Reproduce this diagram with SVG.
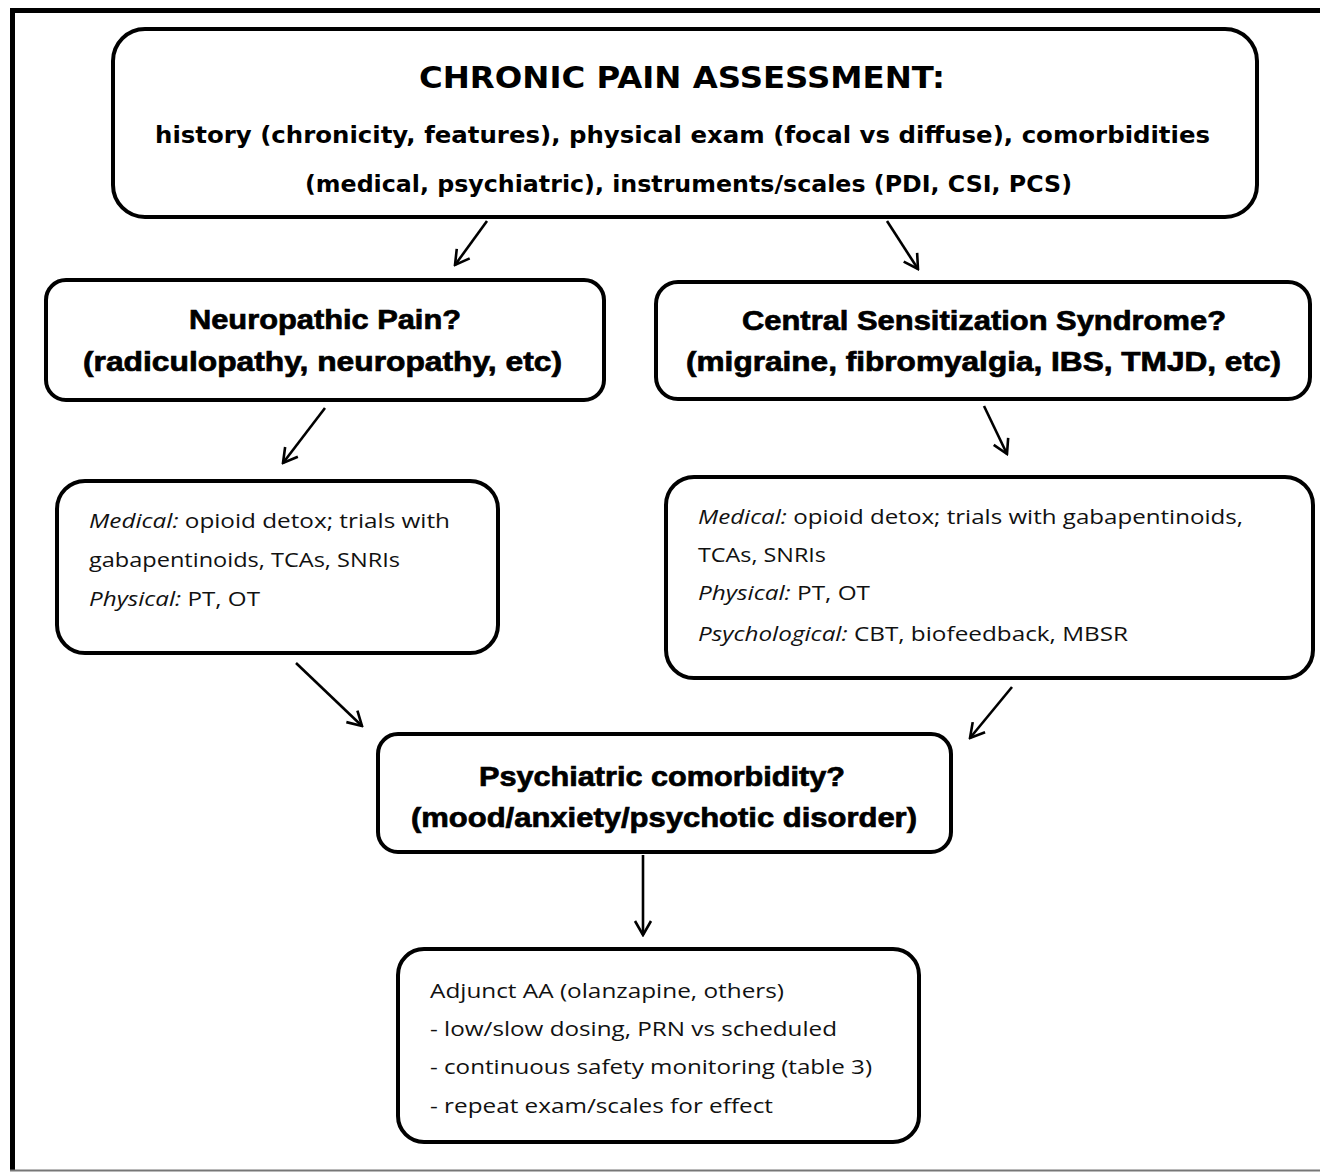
<svg xmlns="http://www.w3.org/2000/svg" width="1320" height="1172" viewBox="0 0 1320 1172">
  <defs>
    <marker id="head" viewBox="0 0 20 20" refX="18" refY="10" markerWidth="20" markerHeight="20" markerUnits="userSpaceOnUse" orient="auto">
      <path d="M4,2 L18,10 L4,18" fill="none" stroke="#000" stroke-width="2.6"/>
    </marker>
  </defs>
  <style>
    .box { fill: #fff; stroke: #000; stroke-width: 4; }
    .head { font-family: "DejaVu Sans", Verdana, sans-serif; font-weight: bold; fill: #000; }
    .heavy { font-family: "Liberation Sans", Arial, sans-serif; font-weight: bold; font-size: 27px; fill: #000; stroke: #000; stroke-width: 0.7; }
    .body { font-family: "Open Sans", "Liberation Sans", sans-serif; font-size: 20px; fill: #111; }
    .it { font-style: italic; }
    .conn { fill: none; stroke: #000; stroke-width: 2.6; marker-end: url(#head); }
  </style>

  <rect x="0" y="0" width="1320" height="1172" fill="#fff"/>
  <!-- page frame: heavy top and left rules, light bottom rule -->
  <path d="M1324,10.5 H12.5 V1170" fill="none" stroke="#000" stroke-width="5"/>
  <line x1="10" y1="1170.5" x2="1320" y2="1170.5" stroke="#777" stroke-width="2"/>

  <g id="assessment">
    <rect class="box" x="113" y="29" width="1144" height="188" rx="32"/>
    <text class="head" x="682" y="88" font-size="30" text-anchor="middle" textLength="526" lengthAdjust="spacingAndGlyphs">CHRONIC PAIN ASSESSMENT:</text>
    <text class="head" x="155" y="143" font-size="23" textLength="1055" lengthAdjust="spacingAndGlyphs">history (chronicity, features), physical exam (focal vs diffuse), comorbidities</text>
    <text class="head" x="305" y="192" font-size="23" textLength="767" lengthAdjust="spacingAndGlyphs">(medical, psychiatric), instruments/scales (PDI, CSI, PCS)</text>
  </g>

  <g id="neuropathic">
    <rect class="box" x="46" y="280" width="558" height="120" rx="20"/>
    <text class="heavy" x="189" y="329" textLength="272" lengthAdjust="spacingAndGlyphs">Neuropathic Pain?</text>
    <text class="heavy" x="83" y="371" textLength="479" lengthAdjust="spacingAndGlyphs">(radiculopathy, neuropathy, etc)</text>
  </g>

  <g id="central-sensitization">
    <rect class="box" x="656" y="282" width="654" height="117" rx="22"/>
    <text class="heavy" x="742" y="330" textLength="484" lengthAdjust="spacingAndGlyphs">Central Sensitization Syndrome?</text>
    <text class="heavy" x="686" y="371" textLength="595" lengthAdjust="spacingAndGlyphs">(migraine, fibromyalgia, IBS, TMJD, etc)</text>
  </g>

  <g id="neuropathic-treatment">
    <rect class="box" x="57" y="481" width="441" height="172" rx="28"/>
    <text class="body" x="89" y="528" textLength="361" lengthAdjust="spacingAndGlyphs"><tspan class="it">Medical:</tspan>  opioid detox; trials with</text>
    <text class="body" x="89" y="567" textLength="311" lengthAdjust="spacingAndGlyphs">gabapentinoids, TCAs, SNRIs</text>
    <text class="body" x="89" y="606" textLength="171" lengthAdjust="spacingAndGlyphs"><tspan class="it">Physical:</tspan> PT, OT</text>
  </g>

  <g id="central-treatment">
    <rect class="box" x="666" y="477" width="647" height="201" rx="28"/>
    <text class="body" x="698" y="524" textLength="545" lengthAdjust="spacingAndGlyphs"><tspan class="it">Medical:</tspan>  opioid detox; trials with gabapentinoids,</text>
    <text class="body" x="698" y="562" textLength="128" lengthAdjust="spacingAndGlyphs">TCAs, SNRIs</text>
    <text class="body" x="698" y="600" textLength="172" lengthAdjust="spacingAndGlyphs"><tspan class="it">Physical:</tspan> PT, OT</text>
    <text class="body" x="698" y="641" textLength="430" lengthAdjust="spacingAndGlyphs"><tspan class="it">Psychological:</tspan> CBT, biofeedback, MBSR</text>
  </g>

  <g id="psychiatric-comorbidity">
    <rect class="box" x="378" y="734" width="573" height="118" rx="20"/>
    <text class="heavy" x="479" y="786" textLength="366" lengthAdjust="spacingAndGlyphs">Psychiatric comorbidity?</text>
    <text class="heavy" x="411" y="827" textLength="506" lengthAdjust="spacingAndGlyphs">(mood/anxiety/psychotic disorder)</text>
  </g>

  <g id="adjunct-aa">
    <rect class="box" x="398" y="949" width="521" height="193" rx="26"/>
    <text class="body" x="430" y="998" textLength="354" lengthAdjust="spacingAndGlyphs">Adjunct AA (olanzapine, others)</text>
    <text class="body" x="430" y="1036" textLength="407" lengthAdjust="spacingAndGlyphs">- low/slow dosing, PRN vs scheduled</text>
    <text class="body" x="430" y="1074" textLength="442" lengthAdjust="spacingAndGlyphs">- continuous safety monitoring (table 3)</text>
    <text class="body" x="430" y="1113" textLength="343" lengthAdjust="spacingAndGlyphs">- repeat exam/scales for effect</text>
  </g>

  <g id="connectors">
    <line class="conn" x1="487" y1="221" x2="455" y2="265"/>
    <line class="conn" x1="887" y1="221" x2="918" y2="269"/>
    <line class="conn" x1="325" y1="408" x2="283" y2="463"/>
    <line class="conn" x1="984" y1="406" x2="1007" y2="454"/>
    <line class="conn" x1="296" y1="663" x2="362" y2="726"/>
    <line class="conn" x1="1012" y1="687" x2="970" y2="738"/>
    <line class="conn" x1="643" y1="855" x2="643" y2="935"/>
  </g>
</svg>
